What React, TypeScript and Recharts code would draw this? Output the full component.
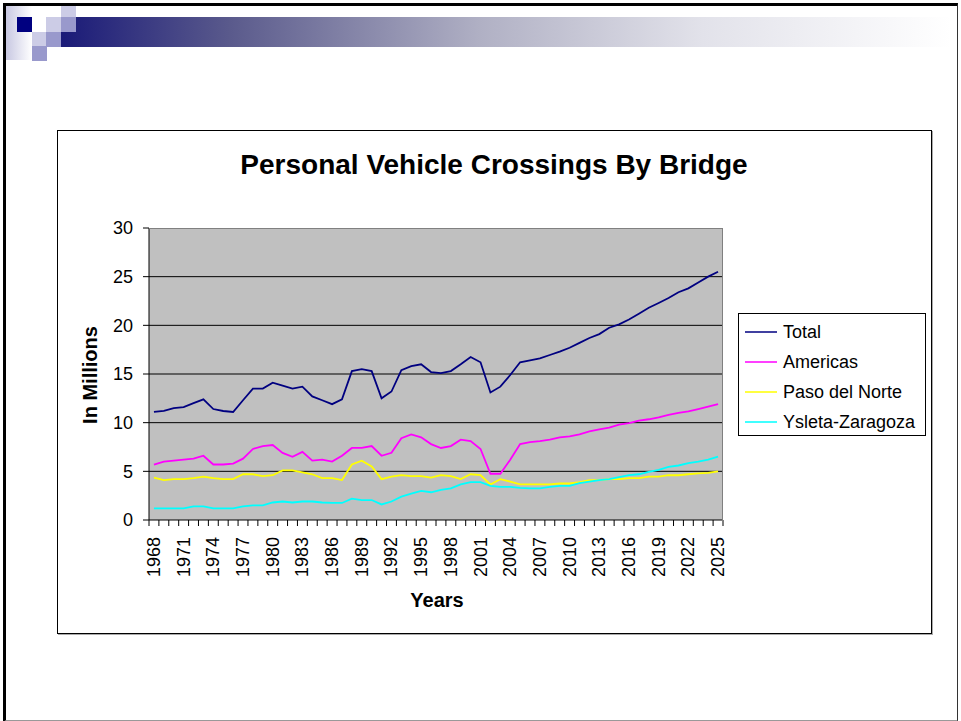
import { CartesianGrid, Line, LineChart, XAxis, YAxis } from "recharts";

const years = [
  1968, 1969, 1970, 1971, 1972, 1973, 1974, 1975, 1976, 1977, 1978, 1979, 1980, 1981, 1982,
  1983, 1984, 1985, 1986, 1987, 1988, 1989, 1990, 1991, 1992, 1993, 1994, 1995, 1996, 1997,
  1998, 1999, 2000, 2001, 2002, 2003, 2004, 2005, 2006, 2007, 2008, 2009, 2010, 2011, 2012,
  2013, 2014, 2015, 2016, 2017, 2018, 2019, 2020, 2021, 2022, 2023, 2024, 2025,
];

const total = [
  11.1, 11.2, 11.5, 11.6, 12.0, 12.4, 11.4, 11.2, 11.1, 12.3, 13.5, 13.5, 14.1, 13.8, 13.5,
  13.7, 12.7, 12.3, 11.9, 12.4, 15.3, 15.5, 15.3, 12.5, 13.2, 15.4, 15.8, 16.0, 15.2, 15.1,
  15.3, 16.0, 16.75, 16.2, 13.1, 13.7, 14.9, 16.2, 16.4, 16.6, 16.95, 17.3, 17.7, 18.2, 18.7,
  19.1, 19.75, 20.1, 20.6, 21.2, 21.8, 22.3, 22.8, 23.4, 23.8, 24.4, 25.0, 25.5,
];

const americas = [
  5.7, 6.0, 6.1, 6.2, 6.3, 6.6, 5.7, 5.7, 5.8, 6.3, 7.3, 7.6, 7.7, 6.9, 6.5,
  7.0, 6.1, 6.2, 6.0, 6.6, 7.4, 7.4, 7.6, 6.6, 6.9, 8.4, 8.8, 8.5, 7.8, 7.4,
  7.6, 8.25, 8.1, 7.3, 4.75, 4.75, 6.2, 7.8, 8.0, 8.1, 8.25, 8.5, 8.6, 8.8, 9.1,
  9.3, 9.5, 9.8, 9.95, 10.2, 10.35, 10.55, 10.8, 11.0, 11.15, 11.4, 11.65, 11.9,
];

const pasoDelNorte = [
  4.35, 4.1, 4.2, 4.2, 4.3, 4.45, 4.3, 4.2, 4.2, 4.7, 4.7, 4.5, 4.6, 5.1, 5.1,
  4.9, 4.7, 4.3, 4.3, 4.1, 5.7, 6.1, 5.5, 4.2, 4.45, 4.6, 4.5, 4.5, 4.35, 4.6,
  4.5, 4.2, 4.7, 4.6, 3.65, 4.2, 3.95, 3.65, 3.65, 3.65, 3.65, 3.75, 3.75, 3.9, 4.1,
  4.1, 4.2, 4.2, 4.3, 4.3, 4.45, 4.45, 4.6, 4.6, 4.7, 4.8, 4.85, 5.0,
];

const ysletaZaragoza = [
  1.2, 1.2, 1.2, 1.2, 1.4, 1.4, 1.2, 1.2, 1.2, 1.4, 1.5, 1.5, 1.8, 1.9, 1.8,
  1.9, 1.9, 1.8, 1.75, 1.75, 2.2, 2.05, 2.05, 1.6, 1.9, 2.4, 2.7, 3.0, 2.85, 3.1,
  3.25, 3.65, 3.9, 3.9, 3.5, 3.4, 3.4, 3.3, 3.25, 3.25, 3.4, 3.5, 3.5, 3.8, 3.95,
  4.1, 4.2, 4.4, 4.6, 4.7, 4.95, 5.15, 5.45, 5.6, 5.85, 6.0, 6.2, 6.5,
];

const yTicks = [0, 5, 10, 15, 20, 25, 30];

const series = [
  { key: "total", name: "Total", color: "#000080" },
  { key: "americas", name: "Americas", color: "#ff00ff" },
  { key: "paso", name: "Paso del Norte", color: "#ffff00" },
  { key: "ysleta", name: "Ysleta-Zaragoza", color: "#00ffff" },
];

const data = years.map((y, i) => ({
  year: String(y),
  total: total[i],
  americas: americas[i],
  paso: pasoDelNorte[i],
  ysleta: ysletaZaragoza[i],
}));

const FONT = "'Liberation Sans', Arial, sans-serif";
const PLOT_LEFT = 149;
const PLOT_TOP = 228;
const PLOT_W = 574;
const PLOT_H = 292;
const BAND = PLOT_W / years.length;

function YearTick(props: any) {
  const { x, y, index } = props;
  const last = index === years.length - 1;
  return (
    <g>
      <line x1={x - BAND / 2} x2={x - BAND / 2} y1={y} y2={y + 6} stroke="#000" />
      {last && <line x1={x + BAND / 2} x2={x + BAND / 2} y1={y} y2={y + 6} stroke="#000" />}
      {index % 3 === 0 && (
        <text
          x={x}
          y={y + 17}
          transform={`rotate(-90, ${x}, ${y + 17})`}
          textAnchor="end"
          dominantBaseline="central"
          fontSize={18}
          fontFamily={FONT}
          fill="#000"
        >
          {props.payload.value}
        </text>
      )}
    </g>
  );
}

function Sq({ x, y, w = 15, h = 15, c }: { x: number; y: number; w?: number; h?: number; c: string }) {
  return <div style={{ position: "absolute", left: x, top: y, width: w, height: h, background: c }} />;
}

export default function App() {
  return (
    <div style={{ position: "absolute", left: 0, top: 0, width: 961, height: 721, background: "#fff", fontFamily: FONT, overflow: "hidden" }}>
      {/* slide frame */}
      <div
        style={{
          position: "absolute", left: 3, top: 3, width: 951, height: 714,
          borderTop: "3px solid #000", borderLeft: "3px solid #000",
          borderRight: "1.5px solid #333", borderBottom: "2px solid #999",
        }}
      />
      {/* title bar decoration */}
      <div style={{ position: "absolute", left: 6, top: 6, width: 26, height: 54, background: "linear-gradient(to right, #c8c8e2, #ffffff)" }} />
      <div
        style={{
          position: "absolute", left: 61, top: 17, width: 890, height: 30,
          background: "linear-gradient(to right, #1a1a78 0%, #5a5a8c 19%, #b0b0c4 47%, #e2e2ea 72%, #ffffff 100%)",
        }}
      />
      <Sq x={17} y={17} c="#000080" />
      <Sq x={32} y={17} c="#ffffff" />
      <Sq x={46} y={17} c="#cccce6" />
      <Sq x={61} y={6} h={11} c="#cccce6" />
      <Sq x={61} y={17} c="#9999cc" />
      <Sq x={32} y={32} c="#cccce6" />
      <Sq x={46} y={32} c="#9999cc" />
      <Sq x={32} y={46} c="#9999cc" />

      {/* chart box */}
      <div style={{ position: "absolute", left: 57, top: 130, width: 873, height: 502, border: "1.5px solid #000", boxShadow: "1px 1px 0 #aaa" }} />

      <div style={{ position: "absolute", left: 494, top: 150, transform: "translateX(-50%)", fontSize: 28, fontWeight: "bold", whiteSpace: "nowrap", lineHeight: "30px" }}>
        Personal Vehicle Crossings By Bridge
      </div>
      <div style={{ position: "absolute", left: 90, top: 375, transform: "translate(-50%, -50%) rotate(-90deg)", fontSize: 20, fontWeight: "bold", whiteSpace: "nowrap" }}>
        In Millions
      </div>
      <div style={{ position: "absolute", left: 437, top: 600, transform: "translate(-50%, -50%)", fontSize: 20, fontWeight: "bold", whiteSpace: "nowrap" }}>
        Years
      </div>

      <div style={{ position: "absolute", left: 0, top: 0 }}>
        <LineChart
          width={961}
          height={721}
          data={data}
          margin={{ top: PLOT_TOP, right: 961 - PLOT_LEFT - PLOT_W, bottom: 0, left: 0 }}
        >
          <CartesianGrid vertical={false} fill="#c0c0c0" stroke="#000" horizontalValues={[5, 10, 15, 20, 25]} />
          <XAxis
            dataKey="year"
            interval={0}
            height={721 - PLOT_TOP - PLOT_H}
            padding={{ left: BAND / 2, right: BAND / 2 }}
            tickLine={false}
            tickSize={0}
            tickMargin={0}
            axisLine={{ stroke: "#000" }}
            tick={<YearTick />}
          />
          <YAxis
            width={PLOT_LEFT}
            domain={[0, 30]}
            ticks={yTicks}
            interval={0}
            tickSize={6}
            tickMargin={10}
            axisLine={{ stroke: "#000" }}
            tickLine={{ stroke: "#000" }}
            tick={{ fontSize: 18, fontFamily: FONT, fill: "#000" }}
          />
          {series.map((s) => (
            <Line
              key={s.key}
              type="linear"
              dataKey={s.key}
              name={s.name}
              stroke={s.color}
              strokeWidth={1.8}
              dot={false}
              isAnimationActive={false}
            />
          ))}
        </LineChart>
      </div>

      {/* plot border (top/right) */}
      <div style={{ position: "absolute", left: PLOT_LEFT, top: PLOT_TOP, width: PLOT_W - 1, height: PLOT_H, borderTop: "1px solid #808080", borderRight: "1px solid #808080", pointerEvents: "none" }} />

      {/* legend */}
      <div style={{ position: "absolute", left: 738, top: 313, width: 186, height: 121, border: "1px solid #000", background: "#fff" }}>
        {series.map((s, i) => (
          <div key={s.key} style={{ position: "absolute", left: 6, top: 4 + i * 30, height: 28, display: "flex", alignItems: "center", whiteSpace: "nowrap" }}>
            <svg width={32} height={4} style={{ marginRight: 6 }}>
              <line x1={0} x2={32} y1={2} y2={2} stroke={s.color} strokeWidth={1.5} />
            </svg>
            <span style={{ fontSize: 18 }}>{s.name}</span>
          </div>
        ))}
      </div>
    </div>
  );
}
